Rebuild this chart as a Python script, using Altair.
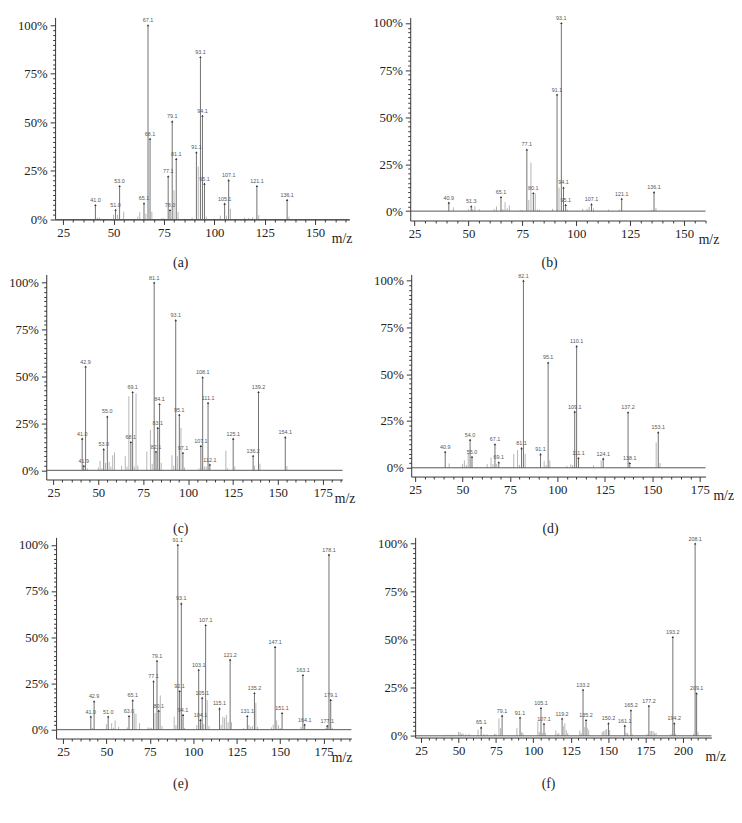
import math
import altair as alt
import pandas as pd

# ---------------- data (m/z, relative intensity in %) ----------------
# (a)
a_lab_mz = [41.0, 51.0, 53.0, 65.1, 67.1, 68.1, 77.1, 78.0, 79.1, 81.1, 91.1, 93.1, 94.1, 95.1, 105.1, 107.1, 121.1, 136.1]
a_lab_int = [7.5, 5.0, 17.3, 8.4, 100, 41.6, 22.3, 4.9, 50.5, 31.2, 34.6, 83.6, 53.4, 18.5, 8.2, 20.3, 17.3, 10.1]
a_min_mz = [42, 43, 50, 52, 55, 62, 63, 66, 69, 74, 75, 80, 82, 89, 92, 96, 103, 106, 108, 115, 117, 119, 122, 137]
a_min_int = [1, 1, 2.5, 2.5, 4, 1.5, 3.8, 3, 4, 0.7, 0.7, 15, 3.8, 1, 27.3, 1.5, 2, 2, 5.5, 1, 0.8, 1.2, 2.2, 1.5]

# (b)
b_lab_mz = [40.9, 51.3, 65.1, 77.1, 80.1, 91.1, 93.1, 94.1, 95.1, 107.1, 121.1, 136.1]
b_lab_int = [4.5, 2.6, 7.5, 32.8, 9.6, 62, 100, 12.6, 3.3, 3.7, 6.6, 10.1]
b_min_mz = [43, 50, 52, 53, 55, 62, 63, 66, 67, 68, 69, 74, 75, 78, 79, 81, 82, 83, 89, 92, 96, 103, 105, 106, 108, 115, 120, 135, 137]
b_min_int = [2, 1, 1, 2.6, 1, 1, 2.5, 1, 4.8, 1.5, 3, 0.5, 0.5, 6, 25.8, 9.5, 0.8, 0.8, 1.2, 12.5, 0.8, 1.2, 1.2, 2.3, 1.5, 0.8, 0.8, 0.7, 1.8]

# (c)
c_lab_mz = [41.0, 41.9, 42.9, 53.0, 55.0, 68.1, 69.1, 81.1, 82.1, 83.1, 84.1, 93.1, 95.1, 97.1, 107.1, 108.1, 111.1, 112.1, 125.1, 136.2, 139.2, 154.1]
c_lab_int = [16.9, 2.4, 55.3, 11.3, 28.7, 15.1, 41.7, 100, 10, 22.6, 35.3, 80, 29.6, 9.4, 13, 49.6, 36, 3.1, 16.9, 7.8, 41.7, 17.7]
c_min_mz = [44, 50, 51, 52, 54, 56, 57, 58, 59, 63, 65, 66, 67, 70, 71, 72, 77, 79, 80, 85, 91, 92, 94, 96, 98, 106, 109, 110, 121, 122, 126, 137, 140, 155]
c_min_int = [1, 1.5, 5, 1, 4, 4.5, 2, 8, 9.5, 2.5, 7.5, 2, 39.5, 2, 41, 2.5, 10, 21.5, 3.5, 4, 8, 2.5, 7.5, 22.5, 1.5, 1, 2, 2, 10.5, 1, 2, 2.5, 3.5, 2.2]

# (d)
d_lab_mz = [40.9, 54.0, 55.0, 67.1, 69.1, 81.1, 82.1, 91.1, 95.1, 109.1, 110.1, 111.1, 124.1, 137.2, 138.1, 153.1]
d_lab_int = [8.6, 15, 5.9, 12.6, 3, 10.5, 100, 7.3, 56.3, 30, 65, 5.2, 4.9, 29.7, 2.6, 19]
d_min_mz = [43, 50, 51, 52, 53, 63, 65, 66, 68, 77, 79, 80, 83, 93, 94, 96, 105, 107, 108, 119, 123, 152, 154]
d_min_int = [2.3, 2, 4, 1.5, 8, 2, 5.5, 2, 2, 7.3, 9.5, 1.5, 7.5, 3.7, 1.5, 4, 1, 1.8, 1.5, 1.3, 4, 13.5, 2.5]

# (e)
e_lab_mz = [41.0, 42.9, 51.0, 63.0, 65.1, 77.1, 79.1, 80.1, 91.1, 92.1, 93.1, 94.1, 103.1, 104.1, 105.1, 107.1, 115.1, 121.2, 131.1, 135.2, 147.1, 151.1, 163.1, 164.1, 177.1, 178.1, 179.1]
e_lab_int = [7.1, 15.4, 7.1, 7.4, 15.9, 26.2, 37.3, 10.3, 100, 20.9, 68.3, 8, 32.4, 5.3, 17.3, 56.6, 11.5, 37.9, 7.4, 19.8, 44.8, 9, 29.6, 2.8, 2.1, 94.7, 16.1]
e_min_mz = [42, 50, 53, 54, 55, 57, 62, 66, 67, 69, 74, 75, 76, 78, 81, 82, 89, 90, 95, 102, 106, 108, 109, 116, 117, 118, 119, 120, 122, 129, 132, 133, 134, 136, 137, 145, 146, 148, 149, 150, 162, 176, 180]
e_min_int = [1, 3, 3.5, 1, 5, 1.5, 1.2, 9, 8.5, 3.5, 1.2, 1, 1, 9, 18.5, 2, 7, 2.5, 1, 2.5, 3, 16, 2, 2.5, 7, 6.5, 8, 4, 4, 0.8, 2.5, 1.5, 2, 14.5, 1.5, 1.2, 2.7, 5, 2.5, 1, 1.5, 0.8, 1]

# (f)
f_lab_mz = [65.1, 79.1, 91.1, 105.1, 107.1, 119.2, 133.2, 135.2, 150.2, 161.1, 165.2, 177.2, 193.2, 194.2, 208.1, 209.1]
f_lab_int = [4.4, 10.5, 9.5, 14.5, 6.3, 9, 24, 8.2, 6.5, 5.3, 13.3, 15.6, 51.4, 6.5, 100, 22.1]
f_min_mz = [41, 43, 45, 47, 50, 51, 52, 53, 55, 57, 63, 67, 69, 74, 75, 77, 78, 89, 92, 93, 103, 104, 106, 108, 115, 116, 117, 120, 121, 122, 123, 131, 132, 134, 136, 137, 146, 147, 148, 149, 151, 162, 163, 166, 176, 178, 179, 180, 181, 182, 192, 195, 207, 210]
f_min_int = [0.5, 0.5, 0.6, 0.5, 2, 2, 1, 1.2, 0.8, 1, 3.2, 1, 0.8, 1, 1, 9, 4, 4, 2, 1.5, 7.5, 2, 1.5, 1.5, 2.8, 1, 1.5, 5, 6.5, 3, 1.5, 2.7, 1.5, 4.5, 4, 3, 2, 2.5, 3, 3.5, 3, 1.5, 1.5, 1, 1, 2.5, 2.5, 2.5, 1.5, 1.5, 1, 1, 1, 2]

captions = ["(a)", "(b)", "(c)", "(d)", "(e)", "(f)"]

# ---------------- layout / style (not data) ----------------
LAYOUT = [
    dict(xdom=[21, 167], ydom=[0, 104], W=300, H=206, L=9, mz_x=301, cap_dx=-17.5, cap_off=11),
    dict(xdom=[23, 160], ydom=[-5, 103], W=301, H=207, L=0, mz_x=304, cap_dx=-8.5, cap_off=10),
    dict(xdom=[21, 186], ydom=[-4.9, 104.3], W=302, H=209, L=0, mz_x=304, cap_dx=-14, cap_off=18),
    dict(xdom=[23, 178], ydom=[-4.7, 103.3], W=300, H=206, L=0, mz_x=318, cap_dx=-8, cap_off=21),
    dict(xdom=[21, 191], ydom=[-4.8, 104], W=301, H=205, L=10, mz_x=301, cap_dx=-18.5, cap_off=13),
    dict(xdom=[21, 219], ydom=[-0.9, 103.2], W=302, H=204, L=0, mz_x=306, cap_dx=-15, cap_off=14),
]
SERIES = [
    (a_lab_mz, a_lab_int, a_min_mz, a_min_int),
    (b_lab_mz, b_lab_int, b_min_mz, b_min_int),
    (c_lab_mz, c_lab_int, c_min_mz, c_min_int),
    (d_lab_mz, d_lab_int, d_min_mz, d_min_int),
    (e_lab_mz, e_lab_int, e_min_mz, e_min_int),
    (f_lab_mz, f_lab_int, f_min_mz, f_min_int),
]

SERIF = "Liberation Serif"
TICK_SIZE = {"condition": {"test": "datum.value % 25 === 0", "value": 5}, "value": 2.5}


def panel(series, lay, caption):
    lab_mz, lab_int, min_mz, min_int = series
    df = pd.DataFrame({
        "mz": list(lab_mz) + list(min_mz),
        "inten": list(lab_int) + list(min_int),
        "kind": ["lab"] * len(lab_mz) + ["min"] * len(min_mz),
    })
    x0, x1 = lay["xdom"]
    L, W = lay["L"], lay["W"]
    xs = alt.Scale(domain=lay["xdom"], range=[L, L + W], nice=False, zero=False)
    ys = alt.Scale(domain=lay["ydom"], nice=False, zero=False)
    xticks = list(range(5 * math.ceil(x0 / 5), int(x1) + 1, 5))
    yticks = [i * 2.5 for i in range(0, 41)]
    xaxis = alt.Axis(values=xticks, labelExpr="datum.value % 25 === 0 ? datum.label : ''",
                     tickSize=TICK_SIZE, labelFlush=False, labelOverlap=False,
                     labelPadding=2, labelFont=SERIF, labelFontSize=13,
                     title="m/z", titleX=lay["mz_x"], titleY=19, titleFont=SERIF, titleFontSize=14,
                     titleAlign="center", titleBaseline="middle", grid=False)
    yaxis = alt.Axis(values=yticks, labelExpr="datum.value % 25 === 0 ? datum.value + '%' : ''",
                     tickSize=TICK_SIZE, labelOverlap=False, labelPadding=3, offset=-L,
                     labelFont=SERIF, labelFontSize=13, title=None, grid=False)
    X = alt.X("mz:Q", scale=xs, axis=xaxis)
    Y = alt.Y("inten:Q", scale=ys, axis=yaxis)

    base = alt.Chart(df)
    bars = base.mark_rule(strokeWidth=1).encode(
        x=X, y=Y, y2=alt.datum(0),
        color=alt.Color("kind:N", scale=alt.Scale(domain=["lab", "min"], range=["#707070", "#b5b5b5"]), legend=None),
    )
    peaks = base.transform_filter(alt.datum.kind == "lab")
    marks = peaks.mark_point(shape="triangle-up", filled=True, size=6, color="#333", opacity=1).encode(x=X, y=Y)
    labels = peaks.mark_text(fontSize=5.5, font="Liberation Sans", color="#555", baseline="bottom", dy=-2).encode(
        x=X, y=Y, text=alt.Text("mz:Q", format=".1f"))
    baseline = alt.Chart(pd.DataFrame({"mz": [x0], "mz_end": [x1], "inten": [0]})).mark_rule(
        color="#555", strokeWidth=1).encode(x=X, x2="mz_end:Q", y=Y)

    return alt.layer(bars, baseline, marks, labels).properties(
        width=L + W, height=lay["H"],
        title=alt.TitleParams(caption, orient="bottom", offset=lay["cap_off"],
                              dx=lay["cap_dx"], font=SERIF, fontSize=14, fontWeight="normal", color="#222"),
    )


p = [panel(SERIES[i], LAYOUT[i], captions[i]) for i in range(6)]
row1 = alt.hconcat(p[0], p[1], spacing=20)
row2 = alt.hconcat(p[2], p[3], spacing=18)
row3 = alt.hconcat(p[4], p[5], spacing=25)

top2 = alt.vconcat(row1, row2, spacing=4)
chart = alt.vconcat(top2, row3, spacing=0).properties(
    padding={"left": 0, "top": 0, "right": 0, "bottom": 0}
).configure_view(stroke=None).configure_axis(
    domainColor="#333", tickColor="#333", labelColor="#222", labelFont=SERIF, labelFontSize=13,
    titleFont=SERIF, titleFontSize=14, titleFontWeight="normal", titleColor="#222",
    domainWidth=1, tickWidth=1,
)

chart.save("out.html", embed_options={"renderer": "svg", "actions": False})
